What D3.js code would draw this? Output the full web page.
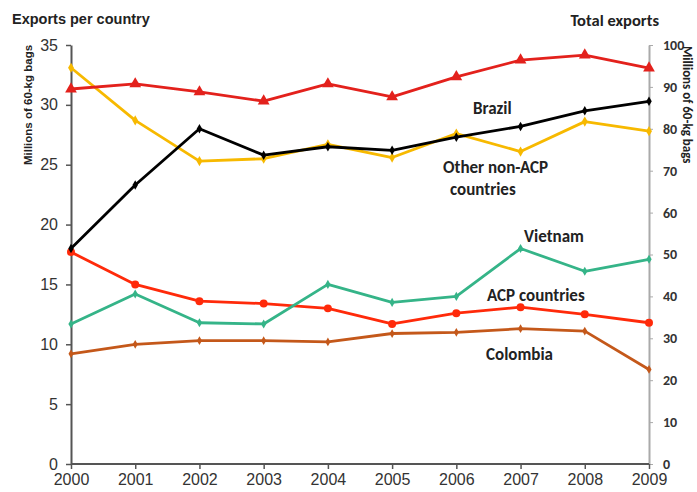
<!DOCTYPE html>
<html>
<head>
<meta charset="utf-8">
<script src="https://cdn.jsdelivr.net/npm/d3@7"></script>
<style>
  html, body { margin: 0; padding: 0; background: #fff; }
  svg { display: block; }
</style>
</head>
<body>
<svg id="chart" width="697" height="492"></svg>
<script>
// Coffee exports, millions of 60-kg bags
const years = [2000, 2001, 2002, 2003, 2004, 2005, 2006, 2007, 2008, 2009];
const leftTicks = [0, 5, 10, 15, 20, 25, 30, 35];
const rightTicks = [0, 10, 20, 30, 40, 50, 60, 70, 80, 90, 100];

const totalExports = [89.5, 90.7, 88.8, 86.6, 90.7, 87.6, 92.4, 96.4, 97.6, 94.5];
const brazil       = [18.0, 23.3, 28.0, 25.8, 26.5, 26.2, 27.3, 28.2, 29.5, 30.3];
const otherNonACP  = [33.1, 28.7, 25.3, 25.5, 26.7, 25.6, 27.6, 26.1, 28.6, 27.8];
const vietnam      = [11.7, 14.2, 11.8, 11.7, 15.0, 13.5, 14.0, 18.0, 16.1, 17.1];
const acpCountries = [17.7, 15.0, 13.6, 13.4, 13.0, 11.7, 12.6, 13.1, 12.5, 11.8];
const colombia     = [9.2, 10.0, 10.3, 10.3, 10.2, 10.9, 11.0, 11.3, 11.1, 7.9];

const svg = d3.select("#chart");
const plotLeft = 71, plotRight = 649, plotTop = 45, plotBottom = 464;

const x = d3.scalePoint().domain(years).range([plotLeft, plotRight]);
const yL = d3.scaleLinear().domain([0, 35]).range([plotBottom, plotTop]);
const yR = d3.scaleLinear().domain([0, 100]).range([plotBottom, plotTop]);

// Left axis
const axL = svg.append("g").attr("transform", `translate(${plotLeft},0)`)
  .call(d3.axisLeft(yL).tickValues(leftTicks).tickSize(5).tickSizeOuter(0).tickPadding(8));
axL.select(".domain").attr("stroke", "#555").attr("stroke-width", 2);
axL.selectAll(".tick line").attr("stroke", "#555").attr("stroke-width", 1.5);
axL.selectAll(".tick text").attr("font-family", "Liberation Sans, Arial, sans-serif")
  .attr("font-size", 16).attr("fill", "#333");

// Right axis
const axR = svg.append("g").attr("transform", `translate(${plotRight},0)`)
  .call(d3.axisRight(yR).tickValues(rightTicks).tickSize(4).tickSizeOuter(0).tickPadding(10));
axR.select(".domain").attr("stroke", "#aaa").attr("stroke-width", 2);
axR.selectAll(".tick line").attr("stroke", "#aaa").attr("stroke-width", 1);
axR.selectAll(".tick text").attr("font-family", "Carlito, Lato, sans-serif")
  .attr("font-weight", "bold").attr("font-size", 14).attr("fill", "#333");

// Bottom axis
const axB = svg.append("g").attr("transform", `translate(0,${plotBottom})`)
  .call(d3.axisBottom(x).tickSize(5).tickSizeOuter(0).tickPadding(5));
axB.select(".domain").attr("stroke", "#555").attr("stroke-width", 2)
  .attr("d", `M${plotLeft},0H${plotRight}`);
axB.selectAll(".tick line").attr("stroke", "#555").attr("stroke-width", 1.5);
axB.selectAll(".tick text").attr("font-family", "Liberation Sans, Arial, sans-serif")
  .attr("font-size", 16).attr("fill", "#333");

// Titles
svg.append("text").attr("x", 12).attr("y", 24)
  .attr("font-family", "Liberation Sans, Arial, sans-serif").attr("font-weight", "bold")
  .attr("font-size", 14.5).attr("fill", "#222").text("Exports per country");
svg.append("text").attr("x", 659).attr("y", 26).attr("text-anchor", "end")
  .attr("font-family", "Carlito, Lato, sans-serif").attr("font-weight", "bold")
  .attr("font-size", 16.5).attr("fill", "#222").text("Total exports");
svg.append("text").attr("transform", "translate(32,105) rotate(-90)").attr("text-anchor", "middle")
  .attr("font-family", "Liberation Sans, Arial, sans-serif").attr("font-weight", "bold")
  .attr("font-size", 11.5).attr("fill", "#222").text("Millions of 60-kg bags");
svg.append("text").attr("transform", "translate(683,46) rotate(90)")
  .attr("font-family", "Carlito, Lato, sans-serif").attr("font-weight", "bold")
  .attr("font-size", 13).attr("fill", "#222").text("Millions of 60-kg bags");

// Series
const series = [
  { name: "Colombia", values: colombia, y: yL, color: "#c4581a", marker: "diamond", size: 22 },
  { name: "ACP", values: acpCountries, y: yL, color: "#ff2a0a", marker: "circle", size: 50 },
  { name: "Vietnam", values: vietnam, y: yL, color: "#35b488", marker: "diamond", size: 24 },
  { name: "Other", values: otherNonACP, y: yL, color: "#f7b900", marker: "diamond", size: 30 },
  { name: "Brazil", values: brazil, y: yL, color: "#000000", marker: "diamond", size: 26 },
  { name: "Total", values: totalExports, y: yR, color: "#e3211c", marker: "triangle", size: 60 }
];

const symbols = { diamond: d3.symbolDiamond, circle: d3.symbolCircle, triangle: d3.symbolTriangle };

series.forEach(s => {
  const line = d3.line().x((d, i) => x(years[i])).y(d => s.y(d));
  svg.append("path").datum(s.values).attr("d", line)
    .attr("fill", "none").attr("stroke", s.color).attr("stroke-width", 2.8)
    .attr("stroke-linejoin", "round");
  svg.append("g").selectAll("path").data(s.values).join("path")
    .attr("transform", (d, i) => `translate(${x(years[i])},${s.y(d)})`)
    .attr("d", d3.symbol().type(symbols[s.marker]).size(s.size))
    .attr("fill", s.color);
});

// Series labels
const labels = [
  { text: "Brazil", x: 473, y: 114 },
  { text: "Other non-ACP", x: 443, y: 173 },
  { text: "countries", x: 450, y: 195 },
  { text: "Vietnam", x: 524, y: 242 },
  { text: "ACP countries", x: 487, y: 301 },
  { text: "Colombia", x: 486, y: 360 }
];
svg.append("g").selectAll("text").data(labels).join("text")
  .attr("x", d => d.x).attr("y", d => d.y)
  .attr("font-family", "Carlito, Lato, sans-serif").attr("font-weight", "bold")
  .attr("font-size", 17).attr("fill", "#222").text(d => d.text);
</script>
</body>
</html>
